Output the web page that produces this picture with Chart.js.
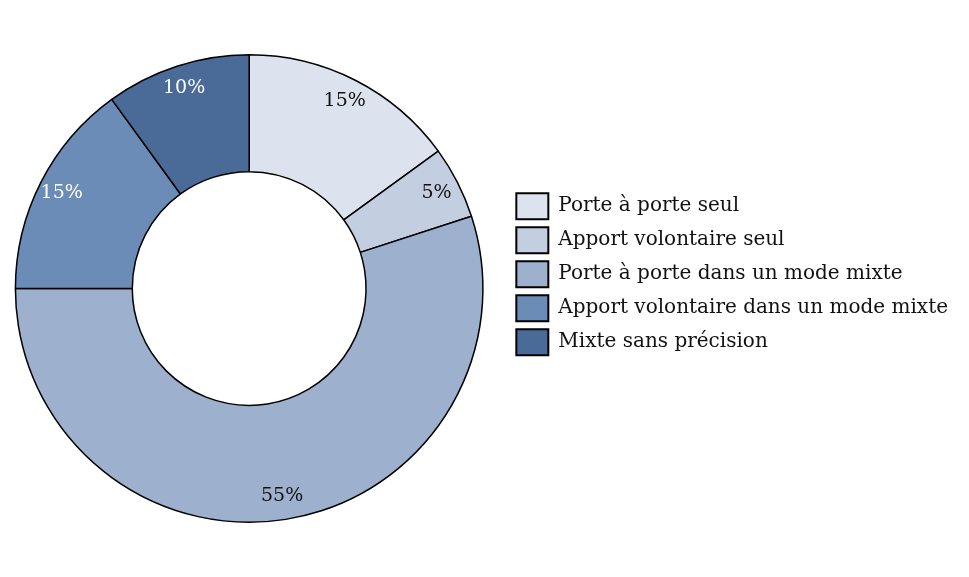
<!DOCTYPE html>
<html>
<head>
<meta charset="utf-8">
<script src="https://cdn.jsdelivr.net/npm/chart.js@4"></script>
<style>
  html, body { margin: 0; padding: 0; background: #fff; overflow: hidden; }
  #wrap { width: 979px; height: 577px; margin-left: -10px; }
</style>
</head>
<body>
<div id="wrap"><canvas id="chart"></canvas></div>
<script>
const labels = [
  'Porte à porte seul',
  'Apport volontaire seul',
  'Porte à porte dans un mode mixte',
  'Apport volontaire dans un mode mixte',
  'Mixte sans précision'
];
const shares = [15, 5, 55, 15, 10];
const colors = ['#DDE3EE', '#C3CEE0', '#9DB0CD', '#6B8CB6', '#4A6A98'];
const labelColors = ['#111', '#111', '#111', '#fff', '#fff'];

const FONT = '"DejaVu Serif", "Liberation Serif", serif';

// pourcentages dans les parts
const sliceLabels = {
  id: 'sliceLabels',
  afterDatasetsDraw(chart) {
    const ctx = chart.ctx;
    const meta = chart.getDatasetMeta(0);
    ctx.save();
    ctx.font = '19px ' + FONT;
    ctx.textAlign = 'center';
    ctx.textBaseline = 'middle';
    meta.data.forEach((arc, i) => {
      const p = arc.getProps(['x', 'y', 'startAngle', 'endAngle', 'innerRadius', 'outerRadius'], true);
      const a = (p.startAngle + p.endAngle) / 2;
      const r = p.innerRadius + 0.8 * (p.outerRadius - p.innerRadius);
      ctx.fillStyle = labelColors[i];
      ctx.fillText(shares[i] + '%', p.x + Math.cos(a) * r, p.y + Math.sin(a) * r);
    });
    ctx.restore();
  }
};

new Chart(document.getElementById('chart'), {
  type: 'doughnut',
  data: {
    labels,
    datasets: [{
      data: shares,
      backgroundColor: colors,
      borderColor: '#000',
      borderWidth: 1.5,
      hoverOffset: 0
    }]
  },
  options: {
    responsive: true,
    maintainAspectRatio: false,
    animation: false,
    cutout: '50%',
    layout: { padding: { top: 54, bottom: 54, left: 0, right: 11 } },
    plugins: {
      tooltip: { enabled: false },
      legend: {
        position: 'right',
        align: 'start',
        title: {
          display: true,
          text: ' ',
          font: { size: 1 },
          padding: { top: 130, bottom: 0 }
        },
        labels: {
          boxWidth: 32,
          boxHeight: 26,
          padding: 8,
          color: '#111',
          font: { family: FONT, size: 20 },
          generateLabels(chart) {
            return labels.map((text, i) => ({
              text,
              fillStyle: colors[i],
              strokeStyle: '#000',
              fontColor: '#111',
              lineWidth: 2,
              index: i,
              hidden: false
            }));
          }
        }
      }
    }
  },
  plugins: [sliceLabels]
});
</script>
</body>
</html>
